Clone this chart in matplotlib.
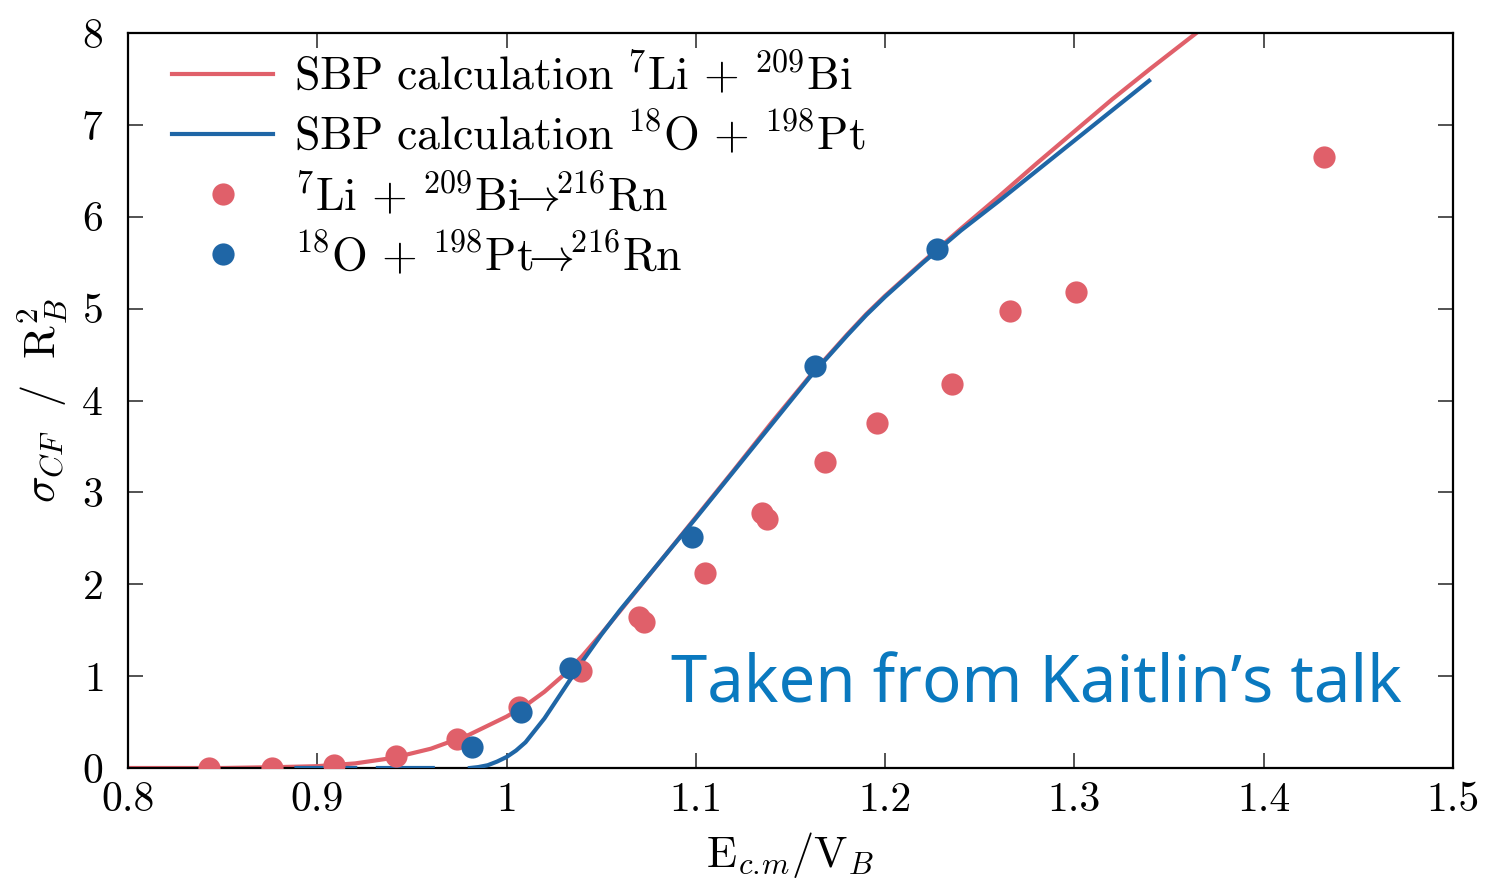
import numpy as np
import matplotlib
matplotlib.use("Agg")
import matplotlib.pyplot as plt

plt.rcParams['font.family'] = 'serif'
plt.rcParams['font.serif'] = ['cmr10', 'DejaVu Serif']
plt.rcParams['mathtext.fontset'] = 'cm'
plt.rcParams['axes.formatter.use_mathtext'] = True

# SBP calculation curves
li_curve_x = [0.80, 0.85, 0.88, 0.90, 0.92, 0.94, 0.96, 0.98, 0.99, 1.00, 1.01,
              1.02, 1.03, 1.04, 1.05, 1.06, 1.08, 1.10, 1.12, 1.14, 1.16, 1.17,
              1.18, 1.19, 1.20, 1.22, 1.24, 1.26, 1.28, 1.30, 1.32, 1.34, 1.37]
li_curve_y = [0.0, 0.0, 0.01, 0.02, 0.05, 0.11, 0.21, 0.36, 0.46, 0.56, 0.68,
              0.83, 1.01, 1.22, 1.46, 1.71, 2.22, 2.73, 3.24, 3.76, 4.26, 4.49,
              4.72, 4.94, 5.14, 5.51, 5.87, 6.22, 6.58, 6.93, 7.28, 7.61, 8.09]

o_curve_x = [0.889, 0.92, np.nan, 0.932, 0.961, np.nan, 0.9806, 0.985, 0.99,
             0.995, 1.00, 1.005, 1.01, 1.02, 1.03, 1.04, 1.05, 1.06, 1.08, 1.10,
             1.12, 1.14, 1.16, 1.17, 1.18, 1.19, 1.20, 1.22, 1.24, 1.26, 1.28,
             1.30, 1.32, 1.3394]
o_curve_y = [0.0, 0.0, np.nan, 0.0, 0.0, np.nan, 0.0, 0.01, 0.03,
             0.07, 0.12, 0.19, 0.28, 0.54, 0.85, 1.16, 1.45, 1.72, 2.22, 2.72,
             3.23, 3.74, 4.25, 4.48, 4.71, 4.93, 5.13, 5.50, 5.85, 6.17, 6.50,
             6.83, 7.16, 7.48]

# measured points
li_x = [0.8428, 0.876, 0.909, 0.9416, 0.9738, 1.0066, 1.0393, 1.070, 1.0726,
        1.1048, 1.135, 1.1376, 1.168, 1.1957, 1.2353, 1.266, 1.3008, 1.4318]
li_y = [0.0, 0.0, 0.03, 0.13, 0.32, 0.66, 1.06, 1.64, 1.59,
        2.12, 2.78, 2.71, 3.33, 3.755, 4.18, 4.97, 5.18, 6.65]

o_x = [0.9817, 1.0076, 1.0335, 1.098, 1.1629, 1.2274]
o_y = [0.23, 0.61, 1.09, 2.51, 4.375, 5.65]

xticks = [0.8, 0.9, 1.0, 1.1, 1.2, 1.3, 1.4, 1.5]
xticklabels = ['0.8', '0.9', '1', '1.1', '1.2', '1.3', '1.4', '1.5']

red = '#e0606a'
blue = '#1f66a6'

fig = plt.figure(figsize=(14.85, 8.85), dpi=100)
ax = fig.add_axes([0.0862, 0.1322, 0.8923, 0.8305])

ax.plot(li_curve_x, li_curve_y, color=red, lw=3, zorder=2,
        label=r'$\mathrm{SBP\ calculation}\ {}^{7}\mathrm{Li}\,+\,{}^{209}\mathrm{Bi}$')
ax.plot(o_curve_x, o_curve_y, color=blue, lw=3, zorder=3,
        label=r'$\mathrm{SBP\ calculation}\ {}^{18}\mathrm{O}\,+\,{}^{198}\mathrm{Pt}$')
ax.plot(li_x, li_y, 'o', color=red, ms=16, mew=0, zorder=4,
        label=r'${}^{7}\mathrm{Li}\,+\,{}^{209}\mathrm{Bi}\!\!\rightarrow\!\!{}^{216}\mathrm{Rn}$')
ax.plot(o_x, o_y, 'o', color=blue, ms=16, mew=0, zorder=5,
        label=r'${}^{18}\mathrm{O}\,+\,{}^{198}\mathrm{Pt}\!\!\rightarrow\!\!{}^{216}\mathrm{Rn}$')

ax.set_xlim(0.8, 1.5)
ax.set_ylim(0, 8)
ax.set_xticks(xticks)
ax.set_xticklabels(xticklabels)
ax.set_yticks(range(9))
ax.tick_params(direction='in', length=11, width=1.3, color='#444444',
               top=True, right=True, labelsize=30)
ax.tick_params(axis='x', pad=10)
ax.tick_params(axis='y', pad=18)
for s in ax.spines.values():
    s.set_linewidth(1.6)

ax.set_xlabel(r'$\mathrm{E}_{c.\!m}/\mathrm{V}_B$', fontsize=32, labelpad=8)
ax.set_ylabel(r'$\sigma_{CF}\ \ /\ \ \mathrm{R}_B^2$', fontsize=32, labelpad=8)

ax.legend(loc='upper left', bbox_to_anchor=(-0.008, 1.051), frameon=False,
          fontsize=33, numpoints=1, handlelength=2.2, handletextpad=0.45,
          labelspacing=0.25, borderaxespad=0.8)

ax.text(0.41, 0.112, 'Taken from Kaitlin\u2019s talk', transform=ax.transAxes,
        family=['Noto Sans', 'DejaVu Sans'], fontsize=47, color='#0a79bf',
        ha='left', va='center')

fig.savefig('out.png', dpi=100)
